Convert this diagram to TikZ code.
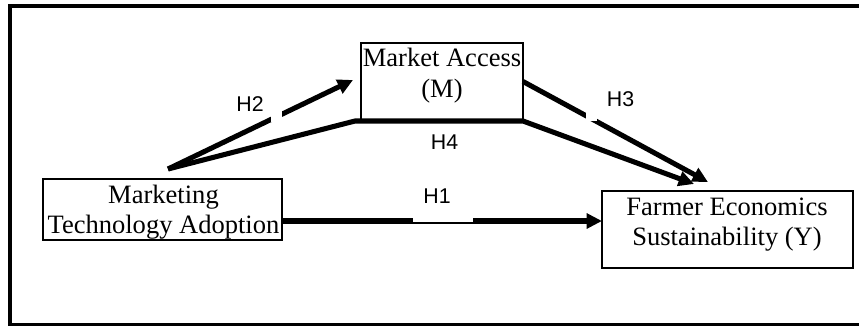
\documentclass[tikz,border=0pt]{standalone}
\usepackage{fontspec}
\setmainfont{Liberation Serif}
\newfontfamily\labfont{Liberation Sans}
\usetikzlibrary{arrows.meta,calc}
\begin{document}
\begin{tikzpicture}[x=0.75pt,y=-0.75pt,
  box/.style={draw, line width=1pt, inner sep=0pt, outer sep=0pt},
  boxtext/.style={align=center, inner sep=0pt, font=\fontsize{19.9}{22.8}\selectfont},
  hlabel/.style={inner sep=0pt, font=\labfont\fontsize{16}{18}\selectfont},
  link/.style={line width=3.8pt, line join=miter, -{Triangle[length=11.5pt,width=11pt]}},
  gapfill/.style={fill=white}]
\useasboundingbox (0,0) rectangle (859,326);
\clip (0,0) rectangle (859,326);
% outer frame
\draw[line width=2.6pt] (10,6) rectangle (900,324.5);
% boxes
\node[box, minimum width=121.5pt, minimum height=57.75pt] (ma) at (442,81.5) {};
\node[box, minimum width=179.25pt, minimum height=45.75pt] (mta) at (162.5,209.5) {};
\node[box, minimum width=188.25pt, minimum height=57.75pt] (fes) at (727.5,229.5) {};
% connector end points
\coordinate (s) at (168,169);
\coordinate (t2) at (353,80);
\coordinate (c4a) at ($(ma.south west)+(-6,1)$);
\coordinate (c4b) at ($(ma.south east)+(0,1)$);
\coordinate (t3) at (708,182);
\coordinate (t4) at (694,184);
\coordinate (h1s) at ($(mta.east)+(0,11.5)$);
\coordinate (h1e) at (fes.west |- h1s);
% connectors
\draw[link] (s) -- (t2);
\draw[link] (s) -- (c4a) -- (c4b) -- (t4);
\draw[link] (ma.east) -- (t3);
\draw[link, line width=4.1pt] (h1s) -- (h1e);
% gaps in the lines
\fill[gapfill] (271,100) rectangle (281.5,121.5);
\fill[gapfill] (586,100) rectangle (597,121);
\fill[gapfill] (413,214) rectangle (473,222);
% labels
\node[hlabel] (l2) at (250,104) {H2};
\node[hlabel] (l3) at (620.5,99) {H3};
\node[hlabel] (l4) at (444.5,142.5) {H4};
\node[hlabel] (l1) at (437,196) {H1};
% box texts
\node[boxtext] (matext) at (442,75.5) {Market Access\\(M)};
\node[boxtext] (mtatext) at (163.5,212) {Marketing\\Technology Adoption};
\node[boxtext] (festext) at (727,224.5) {Farmer Economics\\Sustainability (Y)};
\end{tikzpicture}
\end{document}
